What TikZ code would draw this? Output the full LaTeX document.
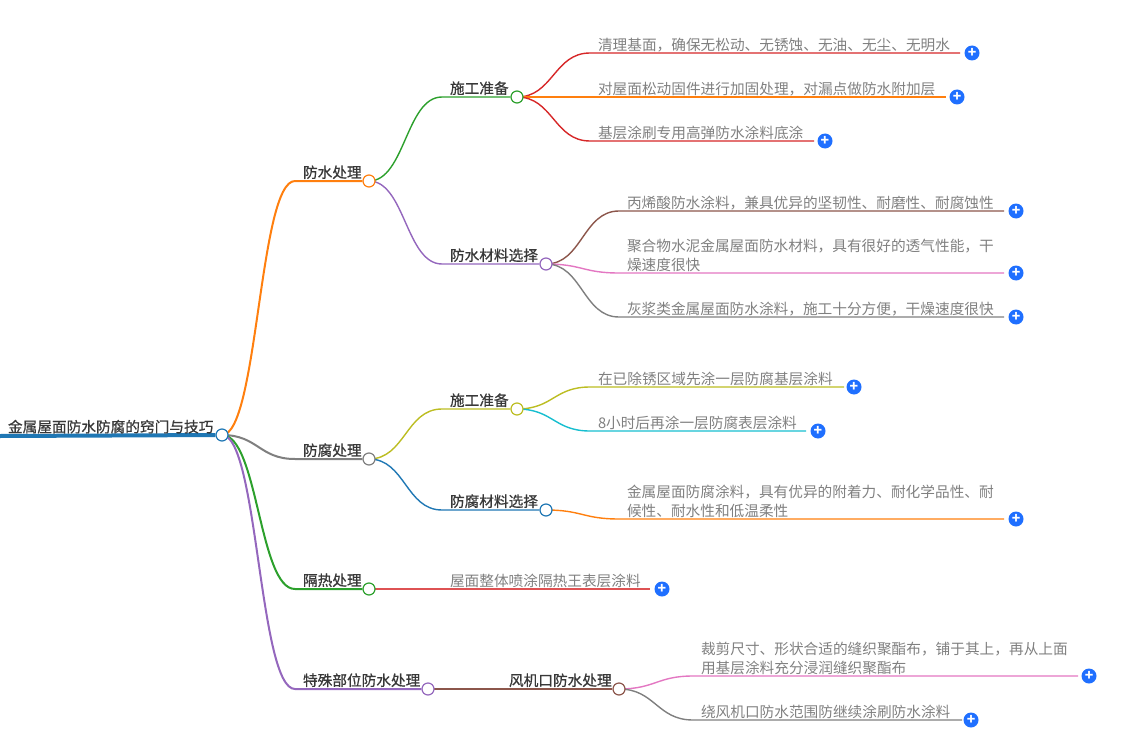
\documentclass[tikz,border=0pt]{standalone}
\usepackage{fontspec}
\setmainfont{Noto Sans CJK SC}
\newfontfamily\topicfont[FakeBold=0.7]{Noto Sans CJK SC}
\usetikzlibrary{backgrounds}
\definecolor{cOrange}{HTML}{FF7F0E}
\definecolor{cGreen}{HTML}{2CA02C}
\definecolor{cRed}{HTML}{D62728}
\definecolor{cPurple}{HTML}{9467BD}
\definecolor{cBrown}{HTML}{8C564B}
\definecolor{cPink}{HTML}{E377C2}
\definecolor{cGray}{HTML}{7F7F7F}
\definecolor{cOlive}{HTML}{BCBD22}
\definecolor{cCyan}{HTML}{17BECF}
\definecolor{cBlue}{HTML}{1F77B4}
\definecolor{cBtn}{HTML}{1F6FFF}
\newcommand{\fs}{\fontsize{14.67}{19}\selectfont}
\newcommand{\undergap}{\rule[-2.5pt]{0pt}{1pt}}
\newcommand{\topicgap}{\rule[-3.2pt]{0pt}{1pt}}

\begin{document}
\begin{tikzpicture}[x=1pt,y=-1pt,
  topic/.style={anchor=south west, inner sep=0pt, outer sep=0pt, font=\fs\topicfont, text=black!78,
                execute at end node=\topicgap},
  leaf/.style={anchor=south west, inner sep=0pt, outer sep=0pt, font=\fs, text=black!50,
               text width=#1pt, align=left, execute at end node=\undergap},
  knob/.style={circle, draw=#1, fill=white, line width=1.2pt, minimum size=12pt, inner sep=0pt},
  btn/.style={circle, fill=cBtn, text=white, minimum size=15pt, inner sep=0pt,
              font=\fontsize{14}{14}\selectfont\bfseries},
  ed/.style={draw=#1, line width=1.4pt},
  edd/.style={draw=#1, line width=2pt}]
\useasboundingbox (0,0) rectangle (1129,749);
% first level
\coordinate (start) at (0,436);
\node[knob=cBlue] (root) at (222,435) {};
\node[topic] (rootlab) at (8,435.5) {金属屋面防水防腐的窍门与技巧};
\node[topic] (wp) at (303,181) {防水处理};
\node[knob=cOrange] (wpk) at (369,181) {};
\node[topic] (ac) at (303,459) {防腐处理};
\node[knob=cGray] (ack) at (369,459) {};
\node[topic] (th) at (303,589) {隔热处理};
\node[knob=cGreen] (thk) at (369,589) {};
\node[topic] (sp) at (303,689) {特殊部位防水处理};
\node[knob=cPurple] (spk) at (428,689) {};
% second level
\node[topic] (wpa) at (450,97) {施工准备};
\node[knob=cGreen] (wpak) at (517,97) {};
\node[topic] (wpb) at (450,264) {防水材料选择};
\node[knob=cPurple] (wpbk) at (546,264) {};
\node[topic] (aca) at (450,409) {施工准备};
\node[knob=cOlive] (acak) at (517,409) {};
\node[topic] (acb) at (450,510) {防腐材料选择};
\node[knob=cBlue] (acbk) at (546,510) {};
\node[topic] (spa) at (509,689) {风机口防水处理};
\node[knob=cBrown] (spak) at (619,689) {};
% leaves
\node[leaf=362] (l1) at (598,53) {清理基面，确保无松动、无锈蚀、无油、无尘、无明水};
\node[leaf=348] (l2) at (598,97) {对屋面松动固件进行加固处理，对漏点做防水附加层};
\node[leaf=216] (l3) at (598,141) {基层涂刷专用高弹防水涂料底涂};
\node[leaf=377] (l4) at (627,211) {丙烯酸防水涂料，兼具优异的坚韧性、耐磨性、耐腐蚀性};
\node[leaf=377] (l5) at (627,273) {聚合物水泥金属屋面防水材料，具有很好的透气性能，干\\燥速度很快};
\node[leaf=377] (l6) at (627,317) {灰浆类金属屋面防水涂料，施工十分方便，干燥速度很快};
\node[leaf=246] (l7) at (598,387) {在已除锈区域先涂一层防腐基层涂料};
\node[leaf=208] (l8) at (598,431) {8小时后再涂一层防腐表层涂料};
\node[leaf=377] (l9) at (627,519) {金属屋面防腐涂料，具有优异的附着力、耐化学品性、耐\\候性、耐水性和低温柔性};
\node[leaf=200] (l10) at (450,589) {屋面整体喷涂隔热王表层涂料};
\node[leaf=377] (l11) at (701,676) {裁剪尺寸、形状合适的缝织聚酯布，铺于其上，再从上面\\用基层涂料充分浸润缝织聚酯布};
\node[leaf=261] (l12) at (701,720) {绕风机口防水范围防继续涂刷防水涂料};
% plus buttons
\node[btn] (b1) at (972,53) {+};
\node[btn] (b2) at (957,97) {+};
\node[btn] (b3) at (825,141) {+};
\node[btn] (b4) at (1016,211) {+};
\node[btn] (b5) at (1016,273) {+};
\node[btn] (b6) at (1016,317) {+};
\node[btn] (b7) at (854,387) {+};
\node[btn] (b8) at (818,431) {+};
\node[btn] (b9) at (1016,519) {+};
\node[btn] (b10) at (662,589) {+};
\node[btn] (b11) at (1089,676) {+};
\node[btn] (b12) at (971,720) {+};
\begin{scope}[on background layer]
\draw[draw=cBlue, line width=4pt] (start) -- (root);
\draw[edd=cOrange] (root.center) .. controls +(36,0) and +(-36,0) .. ([xshift=-8pt]wp.south west) -- (wpk);
\draw[edd=cGray] (root.center) .. controls +(36,0) and +(-36,0) .. ([xshift=-8pt]ac.south west) -- (ack);
\draw[edd=cGreen] (root.center) .. controls +(36,0) and +(-36,0) .. ([xshift=-8pt]th.south west) -- (thk);
\draw[edd=cPurple] (root.center) .. controls +(36,0) and +(-36,0) .. ([xshift=-8pt]sp.south west) -- (spk);
\draw[ed=cGreen] (wpk.center) .. controls +(36,0) and +(-36,0) .. ([xshift=-8pt]wpa.south west) -- (wpak);
\draw[ed=cPurple] (wpk.center) .. controls +(36,0) and +(-36,0) .. ([xshift=-8pt]wpb.south west) -- (wpbk);
\draw[ed=cOlive] (ack.center) .. controls +(36,0) and +(-36,0) .. ([xshift=-8pt]aca.south west) -- (acak);
\draw[ed=cBlue] (ack.center) .. controls +(36,0) and +(-36,0) .. ([xshift=-8pt]acb.south west) -- (acbk);
\draw[ed=cBrown] (spk.center) -- (spa.south west) -- (spak);
\draw[ed=cRed] (wpak.center) .. controls +(36,0) and +(-36,0) .. ([xshift=-8pt]l1.south west) -- (l1.south east);
\draw[ed=cOrange] (wpak.center) -- (l2.south west) -- (l2.south east);
\draw[ed=cRed] (wpak.center) .. controls +(36,0) and +(-36,0) .. ([xshift=-8pt]l3.south west) -- (l3.south east);
\draw[ed=cBrown] (wpbk.center) .. controls +(36,0) and +(-36,0) .. ([xshift=-8pt]l4.south west) -- (l4.south east);
\draw[ed=cPink] (wpbk.center) .. controls +(36,0) and +(-36,0) .. ([xshift=-8pt]l5.south west) -- (l5.south east);
\draw[ed=cGray] (wpbk.center) .. controls +(36,0) and +(-36,0) .. ([xshift=-8pt]l6.south west) -- (l6.south east);
\draw[ed=cOlive] (acak.center) .. controls +(36,0) and +(-36,0) .. ([xshift=-8pt]l7.south west) -- (l7.south east);
\draw[ed=cCyan] (acak.center) .. controls +(36,0) and +(-36,0) .. ([xshift=-8pt]l8.south west) -- (l8.south east);
\draw[ed=cOrange] (acbk.center) .. controls +(36,0) and +(-36,0) .. ([xshift=-8pt]l9.south west) -- (l9.south east);
\draw[draw=cRed!80, line width=1.3pt] (thk.center) -- (l10.south west) -- (l10.south east);
\draw[ed=cPink] (spak.center) .. controls +(36,0) and +(-36,0) .. ([xshift=-8pt]l11.south west) -- (l11.south east);
\draw[ed=cGray] (spak.center) .. controls +(36,0) and +(-36,0) .. ([xshift=-8pt]l12.south west) -- (l12.south east);
\end{scope}
\end{tikzpicture}
\end{document}
